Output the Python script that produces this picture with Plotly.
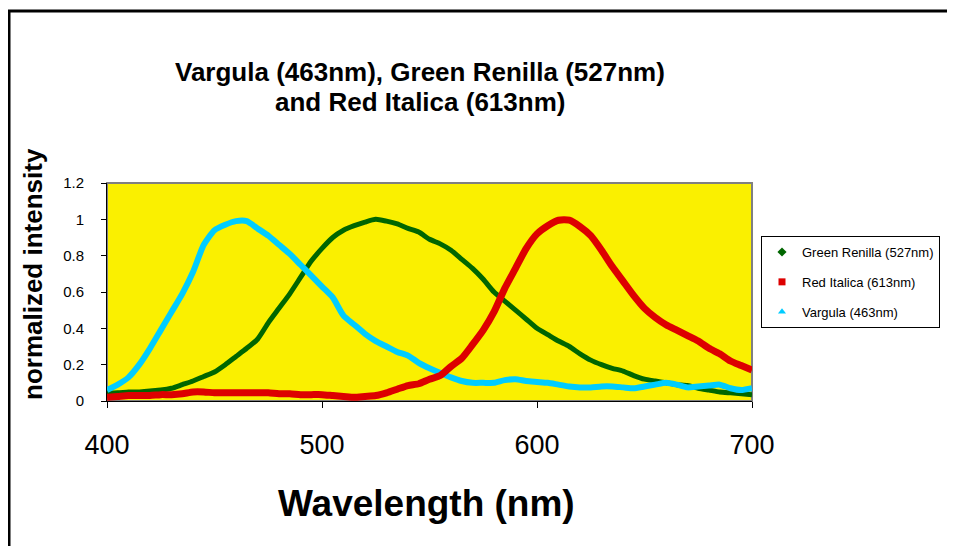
import plotly.graph_objects as go

wavelength = [400, 405, 410, 415, 420, 425, 430, 435, 440, 445, 450, 455, 460, 465, 470,
              475, 480, 485, 490, 495, 500, 505, 510, 515, 520, 525, 530, 535, 540, 545,
              550, 555, 560, 565, 570, 575, 580, 585, 590, 595, 600, 605, 610, 615, 620,
              625, 630, 635, 640, 645, 650, 655, 660, 665, 670, 675, 680, 685, 690, 695, 700]

green_renilla = [0.045, 0.045, 0.05, 0.05, 0.055, 0.06, 0.07, 0.09, 0.11, 0.135, 0.16, 0.2,
                 0.245, 0.29, 0.34, 0.43, 0.51, 0.59, 0.68, 0.77, 0.84, 0.90, 0.94, 0.965,
                 0.985, 1.0, 0.99, 0.975, 0.95, 0.93, 0.89, 0.865, 0.83, 0.78, 0.73, 0.67,
                 0.60, 0.55, 0.50, 0.45, 0.40, 0.365, 0.33, 0.30, 0.26, 0.225, 0.20, 0.18,
                 0.165, 0.14, 0.12, 0.11, 0.10, 0.09, 0.085, 0.07, 0.06, 0.05, 0.045, 0.04, 0.035]

red_italica = [0.02, 0.025, 0.03, 0.03, 0.03, 0.035, 0.035, 0.04, 0.05, 0.05, 0.045, 0.045,
               0.045, 0.045, 0.045, 0.045, 0.04, 0.04, 0.035, 0.035, 0.035, 0.03, 0.025, 0.02,
               0.025, 0.03, 0.045, 0.065, 0.085, 0.095, 0.12, 0.14, 0.19, 0.235, 0.31, 0.39,
               0.49, 0.62, 0.73, 0.84, 0.92, 0.965, 0.995, 0.995, 0.96, 0.91, 0.83, 0.74,
               0.66, 0.58, 0.51, 0.46, 0.42, 0.39, 0.36, 0.33, 0.29, 0.26, 0.22, 0.195, 0.17]

vargula = [0.06, 0.09, 0.13, 0.20, 0.29, 0.39, 0.49, 0.59, 0.71, 0.86, 0.94, 0.97, 0.99,
           0.99, 0.95, 0.91, 0.86, 0.81, 0.75, 0.69, 0.63, 0.57, 0.47, 0.42, 0.37, 0.33,
           0.30, 0.27, 0.25, 0.21, 0.18, 0.155, 0.13, 0.11, 0.10, 0.10, 0.10, 0.115, 0.12,
           0.11, 0.105, 0.10, 0.09, 0.08, 0.075, 0.075, 0.08, 0.08, 0.075, 0.07, 0.08,
           0.09, 0.10, 0.09, 0.075, 0.08, 0.085, 0.09, 0.07, 0.06, 0.07]

series_names = ["Green Renilla (527nm)", "Red Italica (613nm)", "Vargula (463nm)"]
y_ticks = [0, 0.2, 0.4, 0.6, 0.8, 1, 1.2]
y_tick_text = ["0", "0.2", "0.4", "0.6", "0.8", "1", "1.2"]
x_ticks = [400, 500, 600, 700]
x_tick_text = ["400", "500", "600", "700"]

GREEN = "#006600"
RED = "#DD0000"
CYAN = "#00CCFF"
FONT = "Arial, Liberation Sans, sans-serif"

# the page body adds an 8px offset; figure is sized to fill the rest of the window
OFF = 8
W, H = 955 - OFF, 546 - OFF
# plot area in window pixels
L, R, T, B = 107, 752, 183, 401


def px(xp):
    return (xp - L) / (R - L)


def py(yp):
    return (B - yp) / (B - T)


fig = go.Figure()

# data curves (drawing order: green, cyan, red)
fig.add_trace(go.Scatter(x=wavelength, y=green_renilla, mode="lines", showlegend=False,
                         line=dict(color=GREEN, width=5, shape="spline", smoothing=0.6)))
fig.add_trace(go.Scatter(x=wavelength, y=vargula, mode="lines", showlegend=False,
                         line=dict(color=CYAN, width=6, shape="spline", smoothing=0.6)))
fig.add_trace(go.Scatter(x=wavelength, y=red_italica, mode="lines", showlegend=False,
                         line=dict(color=RED, width=7, shape="spline", smoothing=0.6)))

# legend entries (markers only, like the original)
legend_styles = [(GREEN, "diamond"), (RED, "square"), (CYAN, "triangle-up")]
for i, (name, (col, sym)) in enumerate(zip(series_names, legend_styles)):
    fig.add_trace(go.Scatter(x=[None], y=[None], mode="markers", name=name,
                             legendgroup=f"g{i}",
                             marker=dict(color=col, symbol=sym, size=7)))

fig.update_layout(
    width=W, height=H,
    margin=dict(l=L - OFF, r=W - (R - OFF), t=T - OFF, b=H - (B - OFF), autoexpand=False),
    paper_bgcolor="white",
    plot_bgcolor="#FAF000",
    font=dict(family=FONT, color="black"),
    showlegend=True,
    legend=dict(x=px(761), y=py(236), xanchor="left", yanchor="top",
                bgcolor="white", bordercolor="black", borderwidth=1,
                font=dict(family=FONT, size=13, color="black"),
                tracegroupgap=10, traceorder="grouped"),
    xaxis=dict(range=[400, 700], tickvals=x_ticks, ticktext=x_tick_text,
               showgrid=False, zeroline=False, showline=True, linecolor="black",
               linewidth=1, ticks="outside", ticklen=6, tickcolor="black",
               tickfont=dict(family=FONT, size=27, color="black"),
               ticklabelstandoff=14, fixedrange=True),
    yaxis=dict(range=[0, 1.2], tickvals=y_ticks, ticktext=y_tick_text,
               showgrid=False, zeroline=False, showline=True, linecolor="black",
               linewidth=1, ticks="outside", ticklen=5, tickcolor="black",
               tickfont=dict(family=FONT, size=15, color="black"),
               ticklabelstandoff=14, fixedrange=True),
    shapes=[
        dict(type="rect", xref="paper", yref="paper", x0=0, x1=1, y0=0, y1=1,
             line=dict(color="#808080", width=2), layer="below"),
        dict(type="rect", xref="paper", yref="paper", x0=px(9), x1=px(975),
             y0=py(580), y1=py(11), line=dict(color="black", width=3),
             fillcolor="rgba(0,0,0,0)", layer="above"),
    ],
    annotations=[
        dict(text="Vargula (463nm), Green Renilla (527nm)",
             xref="paper", yref="paper", x=px(420), y=py(72), xanchor="center",
             yanchor="middle", showarrow=False,
             font=dict(family=FONT, size=26, color="black", weight="bold")),
        dict(text="and Red Italica (613nm)",
             xref="paper", yref="paper", x=px(420), y=py(102), xanchor="center",
             yanchor="middle", showarrow=False,
             font=dict(family=FONT, size=26, color="black", weight="bold")),
        dict(text="normalized intensity", textangle=-90,
             xref="paper", yref="paper", x=px(33), y=py(274), xanchor="center",
             yanchor="middle", showarrow=False,
             font=dict(family=FONT, size=26, color="black", weight="bold")),
        dict(text="Wavelength (nm)",
             xref="paper", yref="paper", x=px(426), y=py(503), xanchor="center",
             yanchor="middle", showarrow=False,
             font=dict(family=FONT, size=37, color="black", weight="bold")),
    ],
)

fig.write_html("out.html")
